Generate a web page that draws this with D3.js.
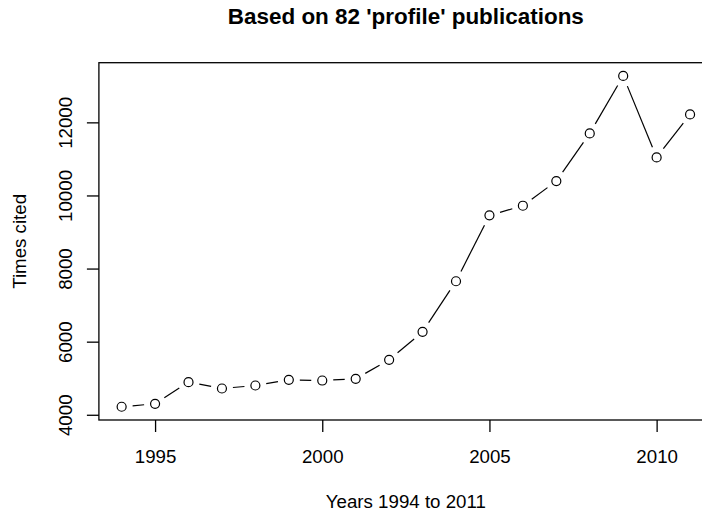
<!DOCTYPE html>
<html><head><meta charset="utf-8">
<script src="https://cdn.jsdelivr.net/npm/d3@7"></script>
<style>
html,body{margin:0;padding:0;background:#fff;overflow:hidden;}
svg{display:block;}
text{font-family:"Liberation Sans",Arial,Helvetica,sans-serif;fill:#000;}
</style></head>
<body>
<script>
const years = [1994,1995,1996,1997,1998,1999,2000,2001,2002,2003,2004,2005,2006,2007,2008,2009,2010,2011];
const cited = [4219,4300,4893,4719,4801,4956,4937,4984,5503,6268,7653,9456,9719,10393,11697,13270,11041,12216];
const xTicks = [1995,2000,2005,2010];
const yTicks = [4000,6000,8000,10000,12000];
const title = "Based on 82 'profile' publications";
const xLabel = "Years 1994 to 2011";
const yLabel = "Times cited";

const W = 702, H = 514;
const L = 98.9, R = 712.8, T = 62.7, B = 420;
const fs = 18.7;

const svg = d3.select("body").append("svg").attr("width", W).attr("height", H);

const xe = d3.extent(years), ye = d3.extent(cited);
const xpad = (xe[1]-xe[0])*0.04, ypad = (ye[1]-ye[0])*0.04;
const x = d3.scaleLinear().domain([xe[0]-xpad, xe[1]+xpad]).range([L, R]);
const y = d3.scaleLinear().domain([ye[0]-ypad, ye[1]+ypad]).range([B, T]);

// box
svg.append("rect").attr("x", L).attr("y", T).attr("width", R-L).attr("height", B-T)
  .attr("fill","none").attr("stroke","#000").attr("stroke-width",1.3);

// x axis
const gx = svg.append("g").attr("transform", `translate(0,${B})`)
  .call(d3.axisBottom(x).tickValues(xTicks).tickSize(12).tickSizeOuter(0).tickFormat(d3.format("d")));
gx.select(".domain").remove();
gx.selectAll("line").attr("stroke","#000").attr("stroke-width",1.3);
gx.selectAll("text").attr("y", 43.3).attr("dy", null).attr("font-size", fs)
  .attr("font-family","Liberation Sans, Arial, sans-serif");

// y axis
const gy = svg.append("g").attr("transform", `translate(${L},0)`)
  .call(d3.axisLeft(y).tickValues(yTicks).tickSize(12).tickSizeOuter(0).tickFormat(d3.format("d")));
gy.select(".domain").remove();
gy.selectAll("line").attr("stroke","#000").attr("stroke-width",1.3);
gy.selectAll("text").attr("x", null).attr("dy", null)
  .attr("transform", "translate(" + (72 - L) + ",0) rotate(-90)")
  .attr("text-anchor","middle").attr("font-size", fs)
  .attr("font-family","Liberation Sans, Arial, sans-serif");

// segments with gaps (type = "b")
const gap = 11;
const pts = years.map((yr,i) => [x(yr), y(cited[i])]);
const segs = [];
for (let i = 0; i < pts.length-1; i++) {
  const [x0,y0] = pts[i], [x1,y1] = pts[i+1];
  const dx = x1-x0, dy = y1-y0, len = Math.hypot(dx,dy);
  if (len > 2*gap) {
    const ux = dx/len, uy = dy/len;
    segs.push([x0+ux*gap, y0+uy*gap, x1-ux*gap, y1-uy*gap]);
  }
}
svg.append("g").selectAll("line").data(segs).join("line")
  .attr("x1", d=>d[0]).attr("y1", d=>d[1]).attr("x2", d=>d[2]).attr("y2", d=>d[3])
  .attr("stroke","#000").attr("stroke-width",1.2);

svg.append("g").selectAll("circle").data(years).join("circle")
  .attr("cx", (d)=>x(d)).attr("cy", (d,i)=>y(cited[i])).attr("r", 4.5)
  .attr("fill","none").attr("stroke","#000").attr("stroke-width",1.2);

// title & labels
svg.append("text").attr("x", (L+R)/2).attr("y", 24).attr("text-anchor","middle")
  .attr("font-size", fs*1.2).attr("font-weight","bold").text(title);
svg.append("text").attr("x", (L+R)/2).attr("y", 508).attr("text-anchor","middle")
  .attr("font-size", fs).text(xLabel);
svg.append("text").attr("transform", `translate(26,${(T+B)/2}) rotate(-90)`)
  .attr("text-anchor","middle").attr("font-size", fs).text(yLabel);
</script>
</body></html>
